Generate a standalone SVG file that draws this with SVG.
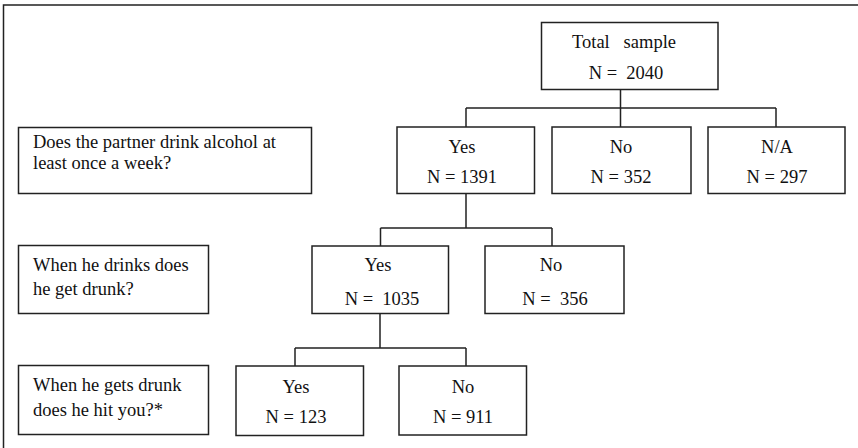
<svg xmlns="http://www.w3.org/2000/svg" width="858" height="448" viewBox="0 0 858 448">
<style>
.box{fill:#fff;stroke:#222;stroke-width:1.5}
.ln{fill:none;stroke:#222;stroke-width:1.5}
text{font-family:"Liberation Serif","DejaVu Serif","Times New Roman",serif;font-size:18.5px;fill:#111}
.c{text-anchor:middle}
</style>
<rect x="3.5" y="5" width="870" height="460" fill="none" stroke="#222" stroke-width="1.5"/>
<g id="connectors">
<path class="ln" d="M620.5 89 V108 M466 108 H776 M466 108 V127 M620.5 108 V127 M776 108 V127"/>
<path class="ln" d="M466 193 V228 M380.5 228 H552 M380.5 228 V246 M552 228 V246"/>
<path class="ln" d="M380 313 V348 M295 348 H466 M295 348 V366 M466 348 V366"/>
</g>
<g id="q1"><rect class="box" x="18.5" y="127.5" width="293" height="66"/>
<text x="33" y="148">Does the partner drink alcohol at</text><text x="33" y="169">least once a week?</text></g>
<g id="q2"><rect class="box" x="18.5" y="245.5" width="190" height="68"/>
<text x="33" y="271">When he drinks does</text><text x="33" y="295">he get drunk?</text></g>
<g id="q3"><rect class="box" x="18.5" y="365.5" width="190" height="69"/>
<text x="33" y="391">When he gets drunk</text><text x="33" y="416">does he hit you?*</text></g>
<g id="total"><rect class="box" x="541.5" y="22.5" width="176.5" height="67"/>
<text class="c" x="624" y="48" xml:space="preserve">Total   sample</text><text class="c" x="626" y="79" xml:space="preserve">N =  2040</text></g>
<g id="yes1"><rect class="box" x="397" y="127" width="137.5" height="66.5"/>
<text class="c" x="462" y="153">Yes</text><text class="c" x="462" y="183">N = 1391</text></g>
<g id="no1"><rect class="box" x="552" y="127" width="139" height="66.5"/>
<text class="c" x="621" y="153">No</text><text class="c" x="621" y="183">N = 352</text></g>
<g id="na1"><rect class="box" x="708" y="127" width="137" height="66.5"/>
<text class="c" x="777" y="153">N/A</text><text class="c" x="777" y="183">N = 297</text></g>
<g id="yes2"><rect class="box" x="312" y="246" width="136.5" height="67.5"/>
<text class="c" x="378" y="271">Yes</text><text class="c" x="382" y="305" xml:space="preserve">N =  1035</text></g>
<g id="no2"><rect class="box" x="485" y="246" width="139" height="67.5"/>
<text class="c" x="551" y="271">No</text><text class="c" x="555" y="305" xml:space="preserve">N =  356</text></g>
<g id="yes3"><rect class="box" x="236" y="366" width="127.5" height="69.5"/>
<text class="c" x="296" y="393">Yes</text><text class="c" x="296" y="423">N = 123</text></g>
<g id="no3"><rect class="box" x="399" y="366" width="127.5" height="69"/>
<text class="c" x="463" y="393">No</text><text class="c" x="463" y="423">N = 911</text></g>
</svg>
